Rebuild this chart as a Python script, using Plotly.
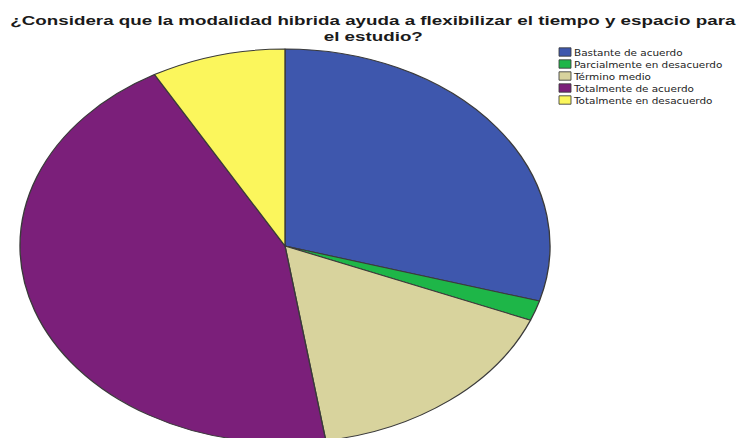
import plotly.graph_objects as go

# Survey responses
categories = [
    "Bastante de acuerdo",
    "Parcialmente en desacuerdo",
    "Término medio",
    "Totalmente de acuerdo",
    "Totalmente en desacuerdo",
]
counts = [18, 1, 10, 27, 5]
colors = ["#3e57ad", "#1eb648", "#d8d39d", "#7b1f7a", "#fbf65c"]

title_lines = [
    "¿Considera que la modalidad hibrida ayuda a flexibilizar el tiempo y espacio para",
    "el estudio?",
]

W, H = 739, 450

fig = go.Figure(
    go.Pie(
        labels=categories,
        values=counts,
        sort=False,
        direction="clockwise",
        rotation=0,
        textinfo="none",
        hoverinfo="label+value+percent",
        marker=dict(colors=colors, line=dict(color="#3a3a3a", width=1)),
        domain=dict(x=[88 / W, 482 / W], y=[7 / H, 401 / H]),
    )
)

title_font = dict(family="Liberation Sans, Arial, sans-serif", size=13, color="#1a1a1a")
for line, ypx in zip(title_lines, [21, 37]):
    fig.add_annotation(
        text="<b>" + line + "</b>", x=373 / W, y=1 - ypx / H,
        xref="paper", yref="paper", xanchor="center", yanchor="middle",
        showarrow=False, font=title_font, borderpad=0,
    )

fig.update_layout(
    width=W,
    height=H,
    margin=dict(l=0, r=0, t=0, b=0),
    paper_bgcolor="white",
    plot_bgcolor="white",
    legend=dict(
        x=545 / W,
        y=1 - 40 / H,
        xanchor="left",
        yanchor="top",
        font=dict(family="DejaVu Sans, sans-serif", size=9.5, color="#222"),
        bgcolor="rgba(0,0,0,0)",
        tracegroupgap=0,
    ),
    showlegend=True,
)

# Stretch the pie and texts horizontally (wide aspect) and tighten the legend rows
post = """
document.body.style.overflow = 'hidden';
var gd = document.getElementsByClassName('plotly-graph-div')[0];
function stretchX(el, s, cx) {
  el.setAttribute('transform',
    'translate(' + cx + ',0) scale(' + s + ',1) translate(' + (-cx) + ',0)');
}
function restyleChart() {
  var layer = gd.querySelector('.pielayer');
  if (layer) {
    layer.removeAttribute('transform');
    var bb = layer.getBBox();
    stretchX(layer, 265 / 197, bb.x + bb.width / 2);
  }
  var titles = gd.querySelectorAll('.annotation-text');
  if (titles.length) {
    titles.forEach(function (t) { t.removeAttribute('transform'); });
    var b0 = titles[0].getBBox();
    var s = 727 / b0.width;
    titles.forEach(function (t) {
      var b = t.getBBox();
      stretchX(t, s, b.x + b.width / 2);
    });
  }
  var items = gd.querySelectorAll('.legend .traces');
  items.forEach(function (g, i) {
    g.setAttribute('transform', 'translate(0,' + (12 + i * 12) + ')');
    var p = g.querySelector('.legendpoints path');
    if (p) p.setAttribute('transform', 'translate(20,0) scale(1,0.7)');
    var t = g.querySelector('.legendtext');
    if (t) { t.setAttribute('x', 29); stretchX(t, 1.1, 29); }
  });
}
restyleChart();
gd.on('plotly_afterplot', restyleChart);
"""

fig.write_html("out.html", post_script=post)
